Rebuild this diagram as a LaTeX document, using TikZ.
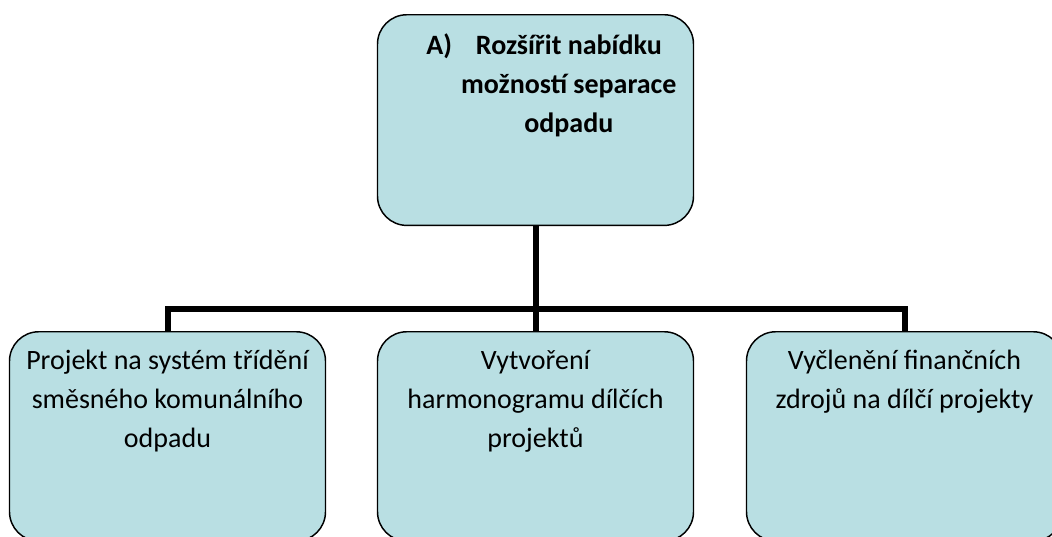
\documentclass[tikz,border=0pt]{standalone}
\usepackage{fontspec}
\setmainfont{Carlito}
\usetikzlibrary{positioning}
\definecolor{boxfill}{HTML}{B9DFE3}

% text block inside a box: fixed height, text at the top
\newcommand{\boxtext}[3][0pt]{%
  \parbox[c][#2][t]{237pt}{\centering\leftskip=#1 plus 1fil
    \fontsize{21}{29.3}\selectfont\vspace*{14pt}#3}}

\begin{document}
\begin{tikzpicture}[
  x=0.75pt, y=-0.75pt,
  goalbox/.style={draw=black, line width=1.1pt, fill=boxfill,
                  rounded corners=22pt, inner sep=0pt, anchor=north},
  stepbox/.style={draw=black, line width=1.1pt, fill=boxfill,
                  rounded corners=22pt, inner sep=0pt, anchor=north},
  link/.style={draw=black, line width=4.5pt}
]
  \clip (0,0) rectangle (1052,536);

  % goal on top
  \node[goalbox] (goal) at (535.5,14)
    {\boxtext[50pt]{158pt}{\bfseries\leavevmode\llap{A)\hspace{18pt}}Rozšířit nabídku\\
      možností separace\\ odpadu}};

  % three sub-steps
  \node[stepbox] (proj) at (167.5,331)
    {\boxtext{157pt}{Projekt na systém třídění\\ směsného komunálního\\ odpadu}};
  \node[stepbox] (harm) at (535.5,331)
    {\boxtext{157pt}{Vytvoření\\ harmonogramu dílčích\\ projektů}};
  \node[stepbox] (fin) at (904.5,331)
    {\boxtext{157pt}{Vyčlenění finančních\\ zdrojů na dílčí projekty}};

  % connectors
  \coordinate (bus) at (536,309);
  \draw[link] (goal.south) -- (harm.north);
  \draw[link] (proj.north) |- (bus) -| (fin.north);
\end{tikzpicture}
\end{document}
